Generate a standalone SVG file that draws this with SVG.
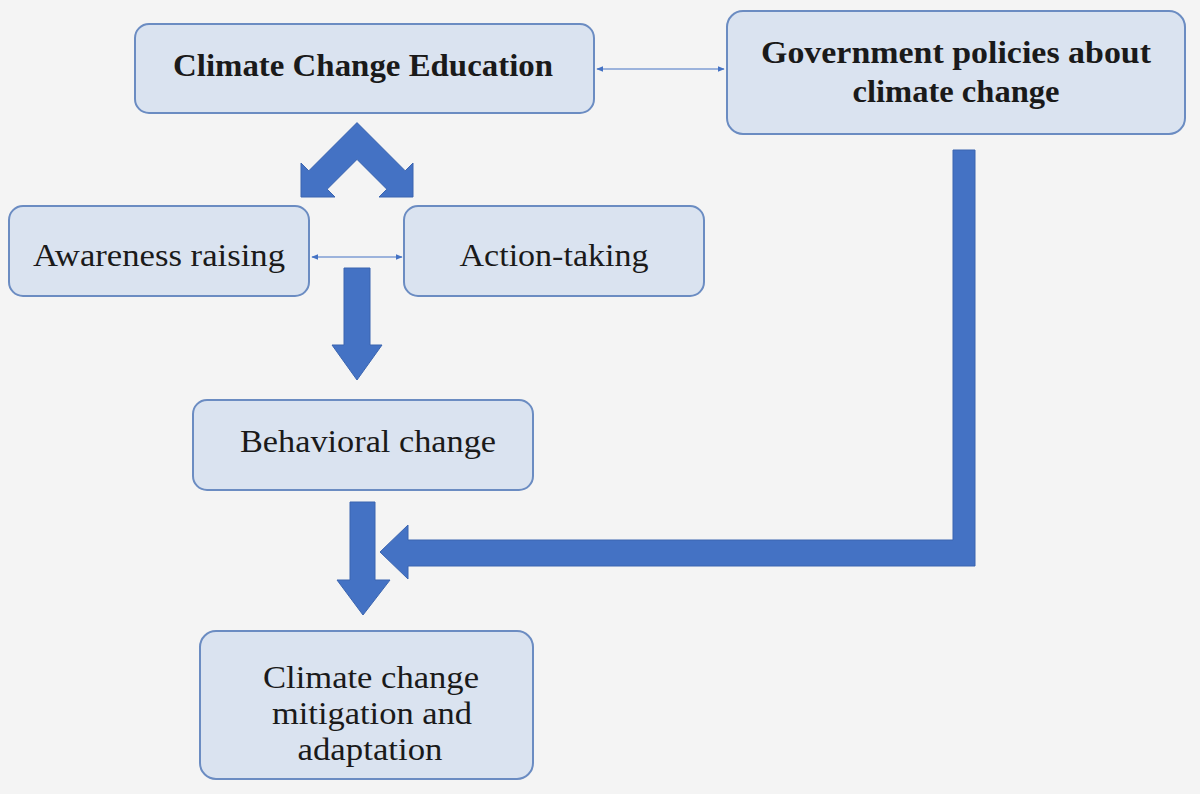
<svg xmlns="http://www.w3.org/2000/svg" width="1200" height="794" viewBox="0 0 1200 794">
<defs>
<style>
.box{fill:#dae3f0;stroke:#6b8cc2;stroke-width:2}
.t{font-family:"Liberation Serif","DejaVu Serif",serif;font-size:32px;fill:#1a1a1a;text-anchor:middle}
.b{font-weight:bold}
.arr{fill:#4472c4;stroke:#3b65b0;stroke-width:1}
.thin{stroke:#4472c4;stroke-width:1.2;fill:none}
</style>
<marker id="ah" viewBox="0 0 10 10" refX="9" refY="5" markerWidth="6" markerHeight="6" orient="auto-start-reverse">
<path d="M0,1 L10,5 L0,9 z" fill="#4472c4"/>
</marker>
</defs>
<rect width="1200" height="794" fill="#f4f4f4"/>
<g id="edu"><rect class="box" x="135" y="24" width="459" height="89" rx="14"/>
<text class="t b" x="363" y="76" textLength="380" lengthAdjust="spacingAndGlyphs">Climate Change Education</text></g>
<g id="gov"><rect class="box" x="727" y="11" width="458" height="123" rx="16"/>
<text class="t b" x="956" y="63" textLength="390" lengthAdjust="spacingAndGlyphs">Government policies about</text>
<text class="t b" x="956" y="102" textLength="207" lengthAdjust="spacingAndGlyphs">climate change</text></g>
<g id="aware"><rect class="box" x="9" y="206" width="300" height="90" rx="14"/>
<text class="t" x="159" y="266" textLength="252" lengthAdjust="spacingAndGlyphs">Awareness raising</text></g>
<g id="action"><rect class="box" x="404" y="206" width="300" height="90" rx="14"/>
<text class="t" x="554" y="266" textLength="189" lengthAdjust="spacingAndGlyphs">Action-taking</text></g>
<g id="behav"><rect class="box" x="193" y="400" width="340" height="90" rx="14"/>
<text class="t" x="368" y="452" textLength="256" lengthAdjust="spacingAndGlyphs">Behavioral change</text></g>
<g id="mitig"><rect class="box" x="200" y="631" width="333" height="148" rx="16"/>
<text class="t" x="371" y="688" textLength="216" lengthAdjust="spacingAndGlyphs">Climate change</text>
<text class="t" x="372" y="724" textLength="200" lengthAdjust="spacingAndGlyphs">mitigation and</text>
<text class="t" x="370" y="760" textLength="145" lengthAdjust="spacingAndGlyphs">adaptation</text></g>
<g id="connectors">
<line class="thin" x1="597" y1="69" x2="724" y2="69" marker-start="url(#ah)" marker-end="url(#ah)"/>
<line class="thin" x1="312" y1="257" x2="402" y2="257" marker-start="url(#ah)" marker-end="url(#ah)"/>
<polygon class="arr" points="357,122.6 308.8,170.8 301,163 301,197 335,197 327.2,189.2 357,159.4 386.8,189.2 379,197 413,197 413,163 405.2,170.8"/>
<polygon class="arr" points="344,268 370,268 370,345 382,345 357,380 332,345 344,345"/>
<polygon class="arr" points="350,502 375,502 375,580 390,580 363,615 337,580 350,580"/>
<polygon class="arr" points="953,150 975,150 975,566 408,566 408,579 380,552 408,525 408,540 953,540"/>
</g>
</svg>
